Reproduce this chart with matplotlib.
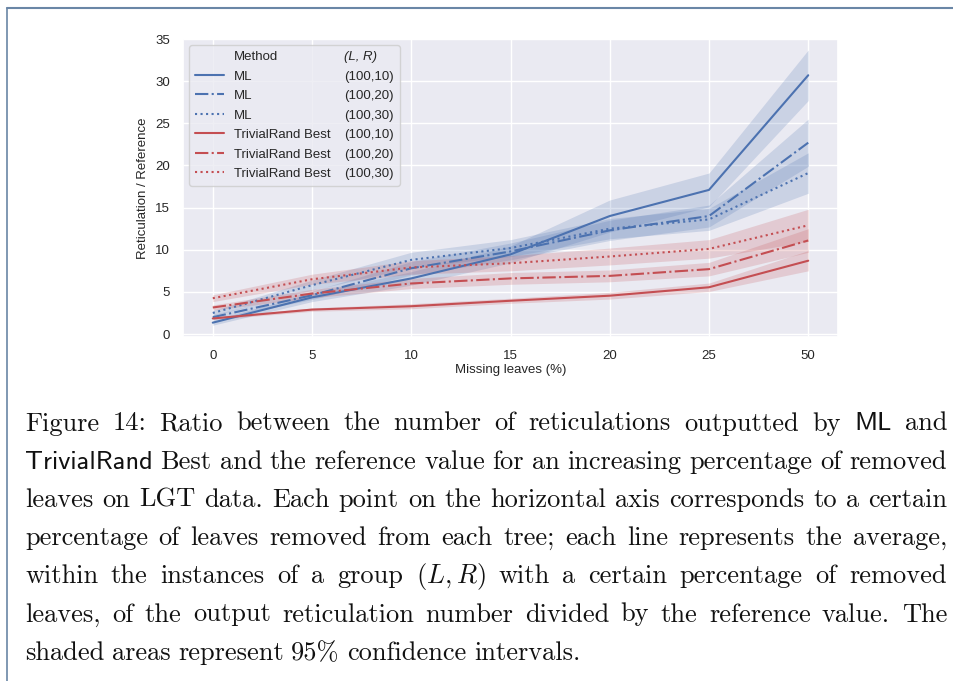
import matplotlib

# Non-interactive backend, the script only writes out.png.
matplotlib.use("Agg")

import matplotlib.pyplot as plt
import seaborn as sns
from matplotlib.lines import Line2D

W = 954
H = 681

# x categories (percentage of missing leaves)
missing_leaves = ["0", "5", "10", "15", "20", "25", "50"]

# mean ratio per group
ml_10 = [1.35, 4.35, 6.6, 9.45, 14.0, 17.1, 30.7]
ml_20 = [2.0, 4.6, 7.8, 9.8, 12.3, 14.0, 22.7]
ml_30 = [2.5, 5.8, 8.8, 10.2, 12.5, 13.6, 19.1]
tr_10 = [1.85, 2.9, 3.3, 3.95, 4.55, 5.55, 8.7]
tr_20 = [3.15, 4.8, 6.0, 6.6, 6.9, 7.7, 11.1]
tr_30 = [4.25, 6.5, 7.9, 8.4, 9.2, 10.1, 12.9]

# half width of the 95% confidence band
ml_10_ci = [0.3, 0.5, 0.8, 1.0, 1.9, 2.0, 3.0]
ml_20_ci = [0.3, 0.5, 0.8, 1.0, 1.2, 1.3, 2.8]
ml_30_ci = [0.3, 0.6, 0.9, 1.0, 1.2, 1.3, 2.4]
tr_10_ci = [0.15, 0.2, 0.3, 0.3, 0.4, 0.5, 1.2]
tr_20_ci = [0.3, 0.5, 0.6, 0.7, 0.7, 0.8, 1.4]
tr_30_ci = [0.4, 0.6, 0.8, 0.9, 1.0, 1.1, 1.9]

methods = ["ML", "ML", "ML", "TrivialRand Best", "TrivialRand Best", "TrivialRand Best"]
groups = ["(100,10)", "(100,20)", "(100,30)", "(100,10)", "(100,20)", "(100,30)"]
series = [ml_10, ml_20, ml_30, tr_10, tr_20, tr_30]
series_ci = [ml_10_ci, ml_20_ci, ml_30_ci, tr_10_ci, tr_20_ci, tr_30_ci]

CAPTION_LINES = [
    "Figure 14: Ratio between the number of reticulations outputted by ML and",
    "TrivialRand Best and the reference value for an increasing percentage of removed",
    "leaves on LGT data. Each point on the horizontal axis corresponds to a certain",
    "percentage of leaves removed from each tree; each line represents the average,",
    "within the instances of a group $(L,R)$ with a certain percentage of removed",
    "leaves, of the output reticulation number divided by the reference value. The",
    "shaded areas represent 95% confidence intervals.",
]
SANS_WORDS = {"ML", "TrivialRand"}

BLUE = "#4c72b0"
RED = "#c44e52"
STYLES = ["-", "-.", ":"]

CAPTION_SIZE = 19
CAPTION_LEFT = 25
CAPTION_RIGHT = 947
CAPTION_TOP = 430.5
CAPTION_STEP = 38.2


def draw_caption_line(fig, renderer, line, y_px, justify):
    texts = []
    for word in line.split(" "):
        family = "cmss10" if word in SANS_WORDS else "cmr10"
        t = fig.text(0, 1 - y_px / H, word, fontsize=CAPTION_SIZE, family=family,
                     va="baseline", ha="left", math_fontfamily="cm", color="#111111")
        texts.append(t)
    widths = [t.get_window_extent(renderer).width for t in texts]
    if justify:
        gap = (CAPTION_RIGHT - CAPTION_LEFT - sum(widths)) / (len(texts) - 1)
    else:
        gap = 7.5
    x = CAPTION_LEFT
    for t, w in zip(texts, widths):
        t.set_x(x / W)
        x += w + gap


def main():
    sns.set_theme(style="darkgrid")
    plt.rcParams["font.family"] = ["Liberation Sans", "DejaVu Sans"]

    fig = plt.figure(figsize=(W / 100, H / 100), dpi=100)
    ax = fig.add_axes([183 / W, 1 - 337 / H, (838 - 183) / W, (337 - 39) / H])

    x = list(range(len(missing_leaves)))
    handles = [Line2D([], [], linestyle="none")]
    for i, (values, ci) in enumerate(zip(series, series_ci)):
        color = BLUE if i < 3 else RED
        lower = [v - c for v, c in zip(values, ci)]
        upper = [v + c for v, c in zip(values, ci)]
        ax.fill_between(x, lower, upper, color=color, alpha=0.2, linewidth=0)
        line, = ax.plot(x, values, color=color, linestyle=STYLES[i % 3], linewidth=1.5)
        handles.append(line)

    ax.set_xticks(x)
    ax.set_xticklabels(missing_leaves)
    ax.set_xlim(-0.3, 6.3)
    ax.set_ylim(-0.35, 35)
    ax.set_yticks([0, 5, 10, 15, 20, 25, 30, 35])
    ax.tick_params(labelsize=9.5, pad=3.5, colors=".15")

    ax.set_xlabel("Missing leaves (%)", fontsize=9.5, color=".15")
    ax.set_ylabel("Reticulation / Reference", fontsize=9.5, color=".15")
    ax.xaxis.label.set_va("center")
    ax.yaxis.label.set_va("center")
    ax.xaxis.set_label_coords(0.5, -(370 - 337) / 298)
    ax.yaxis.set_label_coords((143 - 183) / 655, 0.5)

    # Two legend columns: method name and (L, R) group.
    blanks = [Line2D([], [], linestyle="none") for _ in range(7)]
    labels = ["Method"] + methods + ["(L, R)"] + groups
    leg = ax.legend(handles + blanks, labels, ncol=2, loc="upper left",
                    fontsize=9.5, handlelength=2.2, handletextpad=0.75,
                    columnspacing=-1.9, labelspacing=0.55, borderpad=0.45,
                    borderaxespad=0.45)
    leg.get_texts()[7].set_fontstyle("italic")
    for t in leg.get_texts():
        t.set_color(".15")

    fig.canvas.draw()
    renderer = fig.canvas.get_renderer()
    for i, line in enumerate(CAPTION_LINES):
        draw_caption_line(fig, renderer, line, CAPTION_TOP + i * CAPTION_STEP,
                          justify=i < len(CAPTION_LINES) - 1)

    # Frame lines on the left and top edges of the page crop.
    frame = "#6a86a6"
    fig.add_artist(Line2D([7.5 / W, 7.5 / W], [0, 1 - 8 / H], color=frame, linewidth=1.2,
                          transform=fig.transFigure))
    fig.add_artist(Line2D([7.5 / W, 1], [1 - 8 / H, 1 - 8 / H], color=frame, linewidth=1.5,
                          transform=fig.transFigure))

    fig.savefig("out.png", dpi=100)
    plt.close(fig)


if __name__ == "__main__":
    main()
